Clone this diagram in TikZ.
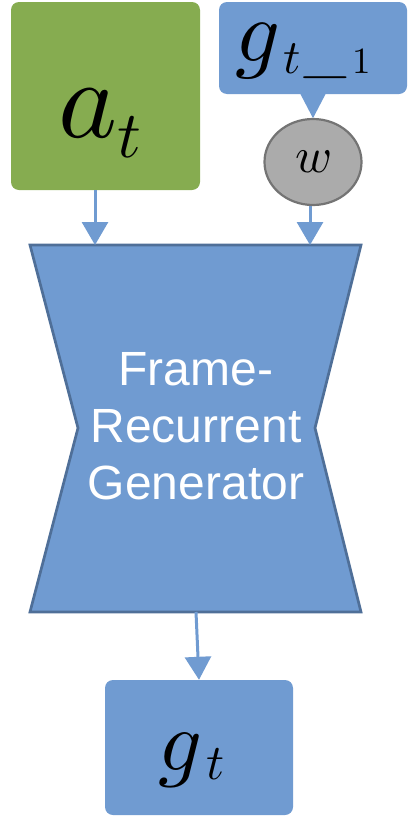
\documentclass[tikz,border=0pt]{standalone}
\usepackage{fontspec}
\newfontfamily\labelfont{Liberation Sans}
\usetikzlibrary{arrows.meta,shapes.geometric,calc}
\font\miA=cmmi10 at 112pt
\font\miAs=cmmi10 at 66pt
\font\miG=cmmi10 at 88pt
\font\miGs=cmmi10 at 48pt
\font\rmGs=cmr10 at 37pt
\font\miT=cmmi10 at 86pt
\font\miTs=cmmi10 at 50pt
\font\miW=cmmi10 at 50pt
\newcommand{\subminus}{\raisebox{-18pt}{\fontsize{46}{46}\selectfont\scalebox{1.5}[1.2]{−}}}
\definecolor{boxgreen}{HTML}{86AC50}
\definecolor{boxblue}{HTML}{709BD1}
\definecolor{edgeblue}{HTML}{4F6F98}
\definecolor{circfill}{HTML}{ABABAB}
\definecolor{circedge}{HTML}{747474}
\tikzset{
  tile/.style={rectangle, rounded corners=8pt, inner sep=0pt, text=black},
  mathlabel/.style={anchor=base west, inner sep=0pt, text=black},
  flow/.style={draw=boxblue, line width=3pt, -{Triangle[width=26pt,length=23pt]}, shorten >=0pt},
}
\begin{document}
\begin{tikzpicture}[x=1pt,y=-1pt]
\useasboundingbox (0,0) rectangle (411,822);
% inputs
\node[tile, fill=boxgreen, minimum width=189pt, minimum height=188pt] (at) at (105.5,96) {};
\node[mathlabel] (atlabel) at (58,137)
  {\miA a\raisebox{-20pt}{\miAs t}};
\node[tile, fill=boxblue, minimum width=188pt, minimum height=92pt] (gprev) at (313,48) {};
\node[mathlabel] (gprevlabel) at (235,61)
  {\miG g\kern6pt\raisebox{-12pt}{\miGs t\kern0pt\subminus\kern2pt\rmGs 1}};
\fill[boxblue] ($(gprev.south)+(-13,-1)$) -- ($(gprev.south)+(13,-1)$) -- ($(gprev.south)+(0,24)$) -- cycle;
\node[ellipse, draw=circedge, line width=2.2pt, fill=circfill, minimum width=97pt, minimum height=86pt, inner sep=0pt] (w) at (313,162)
  {\miW w};
% generator
\coordinate (tl) at (30,245);
\coordinate (tr) at (361,245);
\coordinate (mr) at (315,428);
\coordinate (br) at (361,612);
\coordinate (bl) at (30,612);
\coordinate (ml) at (78,428);
\draw[edgeblue, fill=boxblue, line width=2.7pt, line join=miter] (tl) -- (tr) -- (mr) -- (br) -- (bl) -- (ml) -- cycle;
\node[text=white, align=center, font=\labelfont\fontsize{48}{57}\selectfont, inner sep=0pt] (gen) at (196,426)
  {Frame-\\Recurrent\\Generator};
\coordinate (in1) at (95,245);
\coordinate (in2) at (310,245);
\coordinate (out) at (196,612);
% output
\node[tile, fill=boxblue, minimum width=188pt, minimum height=135pt] (gt) at (199,747.5) {};
\node[mathlabel] (gtlabel) at (158,770)
  {\miT g\kern7pt\raisebox{-9pt}{\miTs t}};
% connectors
\draw[flow] (at.south -| in1) -- (in1);
\draw[flow] (w.south -| in2) -- (in2);
\draw[flow] (out) -- (gt.north);
\end{tikzpicture}
\end{document}
